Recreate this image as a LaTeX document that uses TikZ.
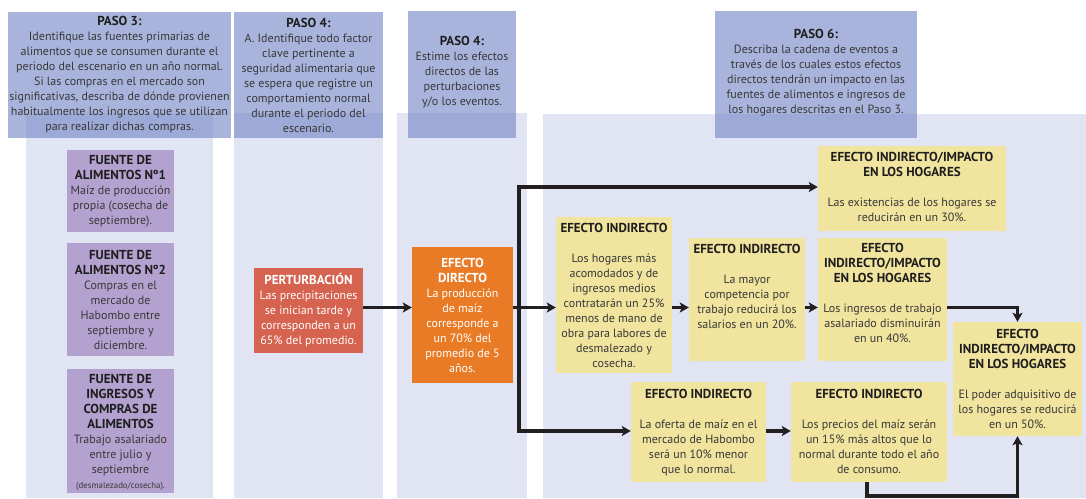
\documentclass[tikz,border=0pt]{standalone}
\usepackage{fontspec}
\setmainfont{PT Sans}
\usetikzlibrary{arrows.meta}
\definecolor{bgcol}{HTML}{E1E4F3}
\definecolor{hdcol}{HTML}{7689C8}
\definecolor{purp}{HTML}{B3A1CF}
\definecolor{redb}{HTML}{D6634F}
\definecolor{orab}{HTML}{E97B27}
\definecolor{yelb}{HTML}{F0E49E}
\definecolor{linecol}{HTML}{231F20}
\definecolor{ttlcol}{HTML}{1E1E1E}
\definecolor{bodycol}{HTML}{383838}
\newcommand\T[1]{{\fontsize{13}{15}\selectfont\bfseries\color{ttlcol}#1}}
\newcommand\W[1]{{\fontsize{13}{15}\selectfont\bfseries #1}}
\begin{document}
\begin{tikzpicture}[x=1pt,y=-1pt,
  txt/.style={align=center,inner sep=0pt,font=\fontsize{12}{15}\selectfont,text=bodycol},
  box/.style={fill=#1,inner sep=0pt,draw=none},
  ln/.style={draw=linecol,line width=3.3pt},
  arr/.style={ln,-{Stealth[length=9pt,width=10pt,inset=2pt]}}]
\useasboundingbox (0,0) rectangle (1086,498);
% background columns
\fill[bgcol] (26,113) rectangle (213,498);
\fill[bgcol] (234,113) rectangle (383,498);
\fill[bgcol] (397,113) rectangle (527,498);
\fill[bgcol] (543,114) rectangle (1086,498);
% headers
\fill[hdcol,fill opacity=0.63] (8,12) rectangle (231,138);
\fill[hdcol,fill opacity=0.63] (234,12) rectangle (383,138);
\fill[hdcol,fill opacity=0.63] (408,11) rectangle (516,138);
\fill[hdcol,fill opacity=0.63] (715,11) rectangle (917,138);
\node[txt] (h3) at (119.5,75) {\T{PASO 3:}\\ Identifique las fuentes primarias de\\ alimentos que se consumen durante el\\ periodo del escenario en un año normal.\\ Si las compras en el mercado son\\ significativas, describa de dónde provienen\\ habitualmente los ingresos que se utilizan\\ para realizar dichas compras.};
\node[txt] (h4a) at (308.5,75.5) {\T{PASO 4:}\\ A. Identifique todo factor\\ clave pertinente a\\ seguridad alimentaria que\\ se espera que registre un\\ comportamiento normal\\ durante el periodo del\\ escenario.};
\node[txt] (h4b) at (462,72.5) {\T{PASO 4:}\\ Estime los efectos\\ directos de las\\ perturbaciones\\ y/o los eventos.};
\node[txt] (h6) at (816,72.5) {\T{PASO 6:}\\ Describa la cadena de eventos a\\ través de los cuales estos efectos\\ directos tendrán un impacto en las\\ fuentes de alimentos e ingresos de\\ los hogares descritas en el Paso 3.};
% purple boxes
\node[box=purp,minimum width=107pt,minimum height=82pt] (f1) at (120.5,191) {};
\node[txt] (f1t) at (f1.center) {\T{FUENTE DE}\\ \T{ALIMENTOS Nº1}\\ Maíz de producción\\ propia (cosecha de\\ septiembre).};
\node[box=purp,minimum width=107pt,minimum height=113pt] (f2) at (120.5,299.5) {};
\node[txt] (f2t) at (f2.center) {\T{FUENTE DE}\\ \T{ALIMENTOS Nº2}\\ Compras en el\\ mercado de\\ Habombo entre\\ septiembre y\\ diciembre.};
\node[box=purp,minimum width=107pt,minimum height=124pt] (f3) at (120.5,431) {};
\node[txt] (f3t) at ([yshift=-1pt]f3.center) {\T{FUENTE DE}\\ \T{INGRESOS Y}\\ \T{COMPRAS DE}\\ \T{ALIMENTOS}\\ Trabajo asalariado\\ entre julio y\\ septiembre\\ {\fontsize{8.8}{12}\selectfont(desmalezado/cosecha).}};
% perturbation and direct effect
\node[box=redb,minimum width=109pt,minimum height=85pt] (pert) at (308.5,310.5) {};
\node[txt,text=white] (pertt) at (pert.center) {\W{PERTURBACIÓN}\\ Las precipitaciones\\ se inician tarde y\\ corresponden a un\\ 65\% del promedio.};
\node[box=orab,minimum width=101pt,minimum height=136pt] (dir) at (462.5,315) {};
\node[txt,text=white] (dirt) at (dir.center) {\W{EFECTO}\\ \W{DIRECTO}\\ La producción\\ de maíz\\ corresponde a\\ un 70\% del\\ promedio de 5\\ años.};
% yellow boxes
\node[box=yelb,minimum width=116pt,minimum height=156pt] (ind1) at (614,295) {};
\node[txt,anchor=north] (ind1t) at ([yshift=-6pt]ind1.north) {\T{EFECTO INDIRECTO}\\[15pt] Los hogares más\\ acomodados y de\\ ingresos medios\\ contratarán un 25\%\\ menos de mano de\\ obra para labores de\\ desmalezado y\\ cosecha.};
\node[box=yelb,minimum width=116pt,minimum height=123pt] (ind2) at (747,299.5) {};
\node[txt,anchor=north] (ind2t) at ([yshift=-6pt]ind2.north) {\T{EFECTO INDIRECTO}\\[15pt] La mayor\\ competencia por\\ trabajo reducirá los\\ salarios en un 20\%.};
\node[box=yelb,minimum width=188pt,minimum height=85pt] (imptop) at (912,188.5) {};
\node[txt,anchor=north] (imptopt) at ([yshift=-6pt]imptop.north) {\T{EFECTO INDIRECTO/IMPACTO}\\ \T{EN LOS HOGARES}\\[15pt] Las existencias de los hogares se\\ reducirán en un 30\%.};
\node[box=yelb,minimum width=129pt,minimum height=123pt] (imptrab) at (882.5,299.5) {};
\node[txt,anchor=north] (imptrabt) at ([yshift=-5pt]imptrab.north) {\T{EFECTO}\\ \T{INDIRECTO/IMPACTO}\\ \T{EN LOS HOGARES}\\[15pt] Los ingresos de trabajo\\ asalariado disminuirán\\ en un 40\%.};
\node[box=yelb,minimum width=129pt,minimum height=114pt] (impright) at (1017.5,379) {};
\node[txt,anchor=north] (imprightt) at ([yshift=-7pt]impright.north) {\T{EFECTO}\\ \T{INDIRECTO/IMPACTO}\\ \T{EN LOS HOGARES}\\[15pt] El poder adquisitivo de\\ los hogares se reducirá\\ en un 50\%.};
\node[box=yelb,minimum width=135pt,minimum height=100pt] (oferta) at (698.5,432) {};
\node[txt,anchor=north] (ofertat) at ([yshift=-7pt]oferta.north) {\T{EFECTO INDIRECTO}\\[15pt] La oferta de maíz en el\\ mercado de Habombo\\ será un 10\% menor\\ que lo normal.};
\node[box=yelb,minimum width=156pt,minimum height=100pt] (precios) at (869,432) {};
\node[txt,anchor=north] (preciost) at ([yshift=-7pt]precios.north) {\T{EFECTO INDIRECTO}\\[15pt] Los precios del maíz serán\\ un 15\% más altos que lo\\ normal durante todo el año\\ de consumo.};
% connectors
\coordinate (tTop) at (519,187);
\coordinate (tMid) at (519,307.5);
\coordinate (tBot) at (519,431);
\coordinate (pBot) at (867,496);
\draw[arr] (pert.east |- tMid) -- (dir.west |- tMid);
\draw[arr] (tMid) -- (tTop) -- (imptop.west |- tTop);
\draw[arr] (tMid) -- (tBot) -- (oferta.west |- tBot);
\draw[arr] (dir.east |- tMid) -- (ind1.west |- tMid);
\draw[arr] (ind1.east |- tMid) -- (ind2.west |- tMid);
\draw[arr] (ind2.east |- tMid) -- (imptrab.west |- tMid);
\draw[arr] (imptrab.east |- tMid) -| (impright.north);
\draw[arr] (oferta.east |- tBot) -- (precios.west |- tBot);
\draw[arr] (precios.south -| pBot) -- (pBot) -| (impright.south);
\end{tikzpicture}
\end{document}
